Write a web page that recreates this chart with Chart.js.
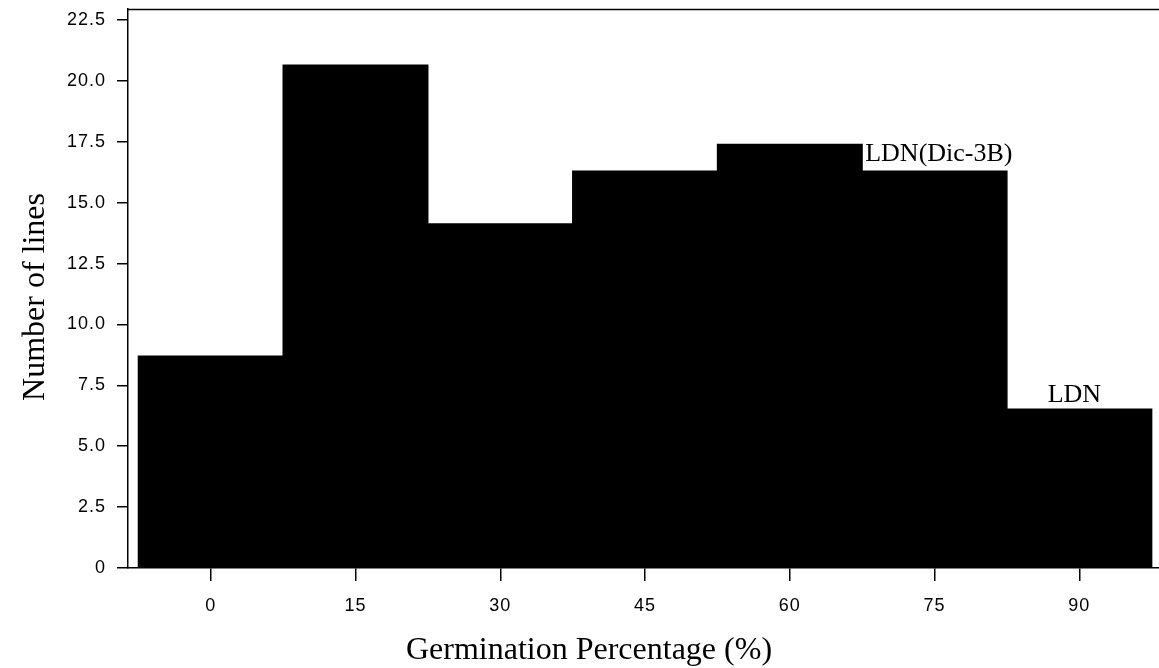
<!DOCTYPE html>
<html>
<head>
<meta charset="utf-8">
<script src="https://cdn.jsdelivr.net/npm/chart.js@4.4.1/dist/chart.umd.min.js"></script>
<style>
  html, body { margin: 0; padding: 0; background: #fff; overflow: hidden; }
  canvas { display: block; }
</style>
</head>
<body>
<canvas id="chart" width="1159" height="668"></canvas>
<script>
// Germination percentage classes (bin centres, %)
const germClasses = [0, 15, 30, 45, 60, 75, 90];
// Share of lines falling in each class
const lineShares = [8.70, 20.65, 14.13, 16.30, 17.39, 16.30, 6.52];
// Axis tick labels
const xTickLabels = ['0', '15', '30', '45', '60', '75', '90'];
const yTickValues = [0, 2.5, 5, 7.5, 10, 12.5, 15, 17.5, 20, 22.5];
const yTickLabels = ['0', '2.5', '5.0', '7.5', '10.0', '12.5', '15.0', '17.5', '20.0', '22.5'];
// Genotype notes and the class / height they sit at
const noteTexts = ['LDN(Dic-3B)', 'LDN'];
const noteClass = [75, 90];
const noteLevel = [17.39, 6.52];
const xTitle = 'Germination Percentage (%)';
const yTitle = 'Number of lines';

const SERIF = '"Liberation Serif", "Times New Roman", serif';
const SANS = '"Liberation Sans", Arial, Helvetica, sans-serif';

// Draws the top frame line, the genotype notes and both axis titles
const frameAndText = {
  id: 'frameAndText',
  beforeDraw(chart) {
    chart.ctx.letterSpacing = '1px';
  },
  beforeDatasetsDraw(chart) {
    chart.ctx.letterSpacing = '0px';
  },
  afterDraw(chart) {
    const { ctx, chartArea: a, scales: { x, y } } = chart;
    ctx.save();
    ctx.letterSpacing = '0px';
    ctx.strokeStyle = '#000';
    ctx.lineWidth = 1.5;
    ctx.beginPath();
    ctx.moveTo(a.left, a.top + 0.5);
    ctx.lineTo(a.right, a.top + 0.5);
    ctx.stroke();

    ctx.fillStyle = '#000';
    ctx.font = '26px ' + SERIF;
    ctx.textBaseline = 'alphabetic';
    // first note: left edge of its class, hanging under the neighbouring bar top
    ctx.textAlign = 'left';
    ctx.fillText(noteTexts[0], x.getPixelForValue(noteClass[0] - 7.5) + 3, y.getPixelForValue(noteLevel[0]) + 17);
    // second note: centred just above its bar
    ctx.textAlign = 'center';
    ctx.fillText(noteTexts[1], x.getPixelForValue(noteClass[1]) - 5, y.getPixelForValue(noteLevel[1]) - 7);

    ctx.font = '32px ' + SERIF;
    ctx.textAlign = 'center';
    ctx.fillText(xTitle, 589, 659);
    ctx.translate(44, 297);
    ctx.rotate(-Math.PI / 2);
    ctx.fillText(yTitle, 0, 0);
    ctx.restore();
  }
};

new Chart(document.getElementById('chart'), {
  type: 'bar',
  data: {
    datasets: [{
      data: germClasses.map((g, i) => ({ x: g, y: lineShares[i] })),
      backgroundColor: '#000',
      borderWidth: 0,
      inflateAmount: 0.6,
      barPercentage: 1,
      categoryPercentage: 1
    }]
  },
  options: {
    responsive: false,
    animation: false,
    layout: { padding: { top: 9, left: 0, right: 0, bottom: 0 } },
    plugins: {
      legend: { display: false },
      tooltip: { enabled: false }
    },
    scales: {
      x: {
        type: 'linear',
        offset: false,
        min: -8.57,
        max: 98.25,
        afterBuildTicks: s => { s.ticks = germClasses.map(v => ({ value: v })); },
        afterFit: s => { s.height = 100; s.paddingLeft = 0; s.paddingRight = 0; },
        ticks: {
          callback: v => xTickLabels[germClasses.indexOf(v)],
          color: '#000',
          font: { family: SANS, size: 18 },
          padding: 14,
          maxRotation: 0,
          autoSkip: false
        },
        grid: { display: true, offset: false, drawOnChartArea: false, drawTicks: true, tickLength: 13, color: '#000', lineWidth: 1.5 },
        border: { display: true, color: '#000', width: 1.5 }
      },
      y: {
        min: 0,
        max: 22.95,
        afterBuildTicks: s => { s.ticks = yTickValues.map(v => ({ value: v })); },
        afterFit: s => { s.width = 128; s.paddingTop = 0; s.paddingBottom = 0; },
        ticks: {
          callback: v => yTickLabels[yTickValues.indexOf(v)],
          color: '#000',
          font: { family: SANS, size: 18 },
          padding: 11,
          autoSkip: false
        },
        grid: { display: true, drawOnChartArea: false, drawTicks: true, tickLength: 11, color: '#000', lineWidth: 1.5 },
        border: { display: true, color: '#000', width: 1.5 }
      }
    }
  },
  plugins: [frameAndText]
});
</script>
</body>
</html>
